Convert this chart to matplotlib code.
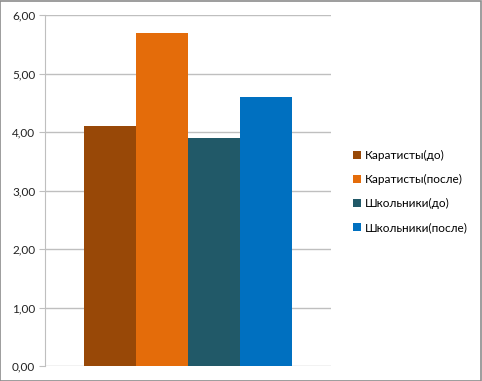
import matplotlib
matplotlib.use("Agg")
import matplotlib.pyplot as plt
from matplotlib.patches import Rectangle
from matplotlib.ticker import FuncFormatter
import numpy as np

# data
series = ["Каратисты(до)", "Каратисты(после)", "Школьники(до)", "Школьники(после)"]
values = [4.1, 5.7, 3.9, 4.6]
colors = ["#984807", "#E46C0A", "#215968", "#0070C0"]
yticks = [0, 1, 2, 3, 4, 5, 6]

plt.rcParams['font.family'] = ['Lato', 'DejaVu Sans']

fig = plt.figure(figsize=(4.82, 3.81), dpi=100)
ax = fig.add_axes([45 / 482, 15 / 381, 286 / 482, 351 / 381])

width = 0.181
offsets = (np.arange(len(series)) - 1.5) * width
for off, v, c, name in zip(offsets, values, colors, series):
    ax.bar(off, v, width=width, color=c, label=name, linewidth=0, zorder=3)

ax.set_xlim(-0.5, 0.5)
ax.set_ylim(0, 6)
ax.set_yticks(yticks)
ax.yaxis.set_major_formatter(FuncFormatter(lambda v, p: f"{v:.2f}".replace(".", ",")))
ax.set_xticks([])
ax.grid(axis="y", color="#BFBFBF", linewidth=1, zorder=0)
for s in ["top", "right", "bottom"]:
    ax.spines[s].set_visible(False)
ax.spines["left"].set_color("#BFBFBF")
ax.tick_params(axis="y", length=4, color="#BFBFBF", labelsize=8.5,
               labelcolor="#222222", pad=3)

handles, labels = ax.get_legend_handles_labels()
leg = fig.legend(handles, labels, loc="center left", bbox_to_anchor=(342 / 482, 0.497),
                 frameon=False, fontsize=8.5, handlelength=0.7, handleheight=0.7,
                 handletextpad=0.3, labelspacing=1.1)

# outer grey frame of the chart area
fig.patches.append(Rectangle((0.001, 0.001), 0.997, 0.996, transform=fig.transFigure,
                             fill=False, edgecolor="#8C8C8C", linewidth=1.2))

fig.savefig("out.png", dpi=100)
